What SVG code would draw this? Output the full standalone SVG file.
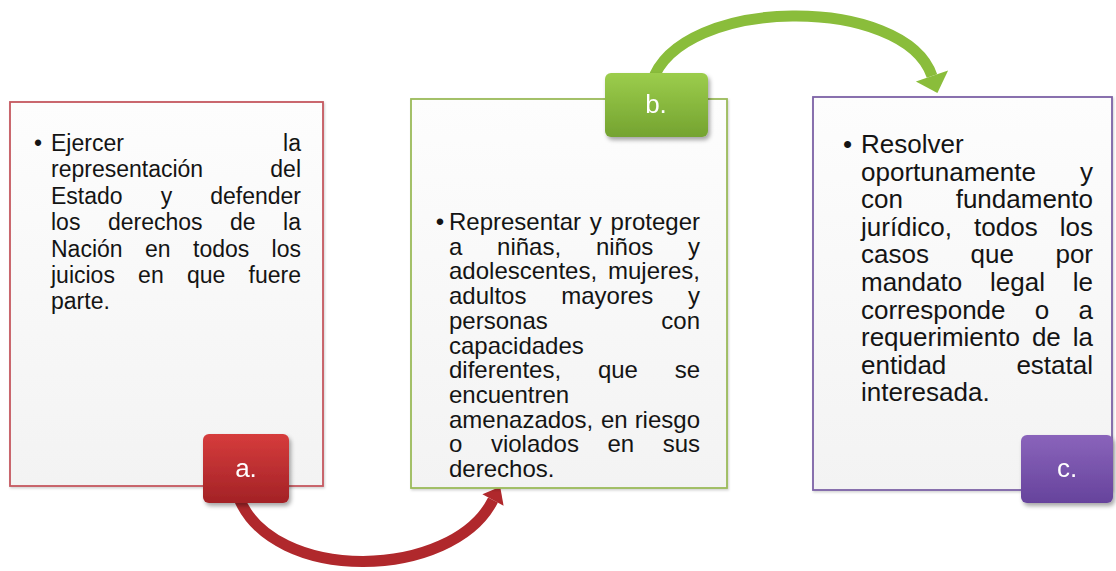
<svg xmlns="http://www.w3.org/2000/svg" width="1116" height="571" viewBox="0 0 1116 571">
<defs>
<linearGradient id="boxFill" x1="0" y1="0" x2="0" y2="1"><stop offset="0" stop-color="#fdfdfd"/><stop offset="1" stop-color="#f3f3f3"/></linearGradient>
<linearGradient id="gRed" x1="0" y1="0" x2="0" y2="1"><stop offset="0" stop-color="#d63c3c"/><stop offset="1" stop-color="#a32226"/></linearGradient>
<linearGradient id="gGreen" x1="0" y1="0" x2="0" y2="1"><stop offset="0" stop-color="#9ccd4c"/><stop offset="1" stop-color="#74a330"/></linearGradient>
<linearGradient id="gPurple" x1="0" y1="0" x2="0" y2="1"><stop offset="0" stop-color="#8a64bb"/><stop offset="1" stop-color="#66439c"/></linearGradient>
<filter id="sh" x="-20%" y="-20%" width="150%" height="150%"><feDropShadow dx="2" dy="3" stdDeviation="2" flood-color="#000" flood-opacity="0.35"/></filter>
<filter id="bsh" x="-5%" y="-5%" width="110%" height="110%"><feDropShadow dx="1" dy="1.5" stdDeviation="1.2" flood-color="#000" flood-opacity="0.18"/></filter>
</defs>
<style>
.box{fill:url(#boxFill);stroke-width:1.8}
.t{font-family:"Liberation Sans",Arial,sans-serif;fill:#141414}
.ta{font-size:23px}
.tb{font-size:24px}
.tc{font-size:26px}
.e{text-anchor:end}
.lbl{font-family:"Liberation Sans",Arial,sans-serif;font-size:26px;fill:#ffffff;text-anchor:middle}
.badge{filter:url(#sh)}
.arr{fill:none;stroke-width:11;stroke-linecap:butt}
</style>
<rect width="1116" height="571" fill="#ffffff"/>

<g id="connectors">
  <g id="arrow-a-b">
    <path class="arr" stroke="#b0282c" d="M238,496 C272,585 453,580 493,500"/>
    <polygon fill="#b0282c" points="500.2,486.8 503.6,505.8 482.4,494.2"/>
  </g>
  <g id="arrow-b-c">
    <path class="arr" stroke="#8abd3b" d="M652,82 C680,-5 905,-5 932,76"/>
    <polygon fill="#8abd3b" points="937.4,93 948.1,70.6 915.9,81.4"/>
  </g>
</g>

<g id="node-a">
  <rect class="box" x="10" y="102" width="313" height="384" stroke="#c5575f" filter="url(#bsh)"/>
  <g class="t ta">
    <text x="34" y="151">•</text>
    <text x="51" y="151">Ejercer</text><text class="e" x="301" y="151">la</text>
    <text x="51" y="177.4">representación</text><text class="e" x="301" y="177.4">del</text>
    <text x="51" y="203.8">Estado</text><text x="160.7" y="203.8">y</text><text class="e" x="301" y="203.8">defender</text>
    <text x="51" y="230.2">los</text><text x="107.9" y="230.2">derechos</text><text x="230" y="230.2">de</text><text class="e" x="301" y="230.2">la</text>
    <text x="51" y="256.6">Nación</text><text x="145" y="256.6">en</text><text x="193" y="256.6">todos</text><text class="e" x="301" y="256.6">los</text>
    <text x="51" y="283">juicios</text><text x="138.1" y="283">en</text><text x="186.9" y="283">que</text><text class="e" x="301" y="283">fuere</text>
    <text x="51" y="309.4">parte.</text>
  </g>
  <g class="badge">
    <rect x="203" y="434" width="86" height="69" rx="6" fill="url(#gRed)"/>
    <text class="lbl" x="246" y="477">a.</text>
  </g>
</g>

<g id="node-b">
  <rect class="box" x="411" y="99" width="316" height="389" stroke="#9bbb59" filter="url(#bsh)"/>
  <g class="t tb">
    <text x="435.8" y="230">•</text>
    <text x="449" y="230">Representar</text><text x="589.8" y="230">y</text><text class="e" x="700" y="230">proteger</text>
    <text x="449" y="254.7">a</text><text x="497.1" y="254.7">niñas,</text><text x="595.9" y="254.7">niños</text><text class="e" x="700" y="254.7">y</text>
    <text x="449" y="279.4">adolescentes,</text><text class="e" x="700" y="279.4">mujeres,</text>
    <text x="449" y="304.1">adultos</text><text x="561.2" y="304.1">mayores</text><text class="e" x="700" y="304.1">y</text>
    <text x="449" y="328.8">personas</text><text class="e" x="700" y="328.8">con</text>
    <text x="449" y="353.5">capacidades</text>
    <text x="449" y="378.2">diferentes,</text><text x="597.9" y="378.2">que</text><text class="e" x="700" y="378.2">se</text>
    <text x="449" y="402.9">encuentren</text>
    <text x="449" y="427.6">amenazados,</text><text x="601" y="427.6">en</text><text class="e" x="700" y="427.6">riesgo</text>
    <text x="449" y="452.3">o</text><text x="490.9" y="452.3">violados</text><text x="607.5" y="452.3">en</text><text class="e" x="700" y="452.3">sus</text>
    <text x="449" y="477">derechos.</text>
  </g>
  <g class="badge">
    <rect x="605" y="73" width="103" height="64" rx="6" fill="url(#gGreen)"/>
    <text class="lbl" x="656" y="113">b.</text>
  </g>
</g>

<g id="node-c">
  <rect class="box" x="813" y="97" width="299" height="393" stroke="#7d62a6" filter="url(#bsh)"/>
  <g class="t tc">
    <text x="843" y="153">•</text>
    <text x="861" y="153">Resolver</text>
    <text x="861" y="180.6">oportunamente</text><text class="e" x="1093" y="180.6">y</text>
    <text x="861" y="208.2">con</text><text class="e" x="1093" y="208.2">fundamento</text>
    <text x="861" y="235.8">jurídico,</text><text x="974.1" y="235.8">todos</text><text class="e" x="1093" y="235.8">los</text>
    <text x="861" y="263.4">casos</text><text x="970.5" y="263.4">que</text><text class="e" x="1093" y="263.4">por</text>
    <text x="861" y="291">mandato</text><text x="990" y="291">legal</text><text class="e" x="1093" y="291">le</text>
    <text x="861" y="318.6">corresponde</text><text x="1034.8" y="318.6">o</text><text class="e" x="1093" y="318.6">a</text>
    <text x="861" y="346.2">requerimiento</text><text x="1031.9" y="346.2">de</text><text class="e" x="1093" y="346.2">la</text>
    <text x="861" y="373.8">entidad</text><text class="e" x="1093" y="373.8">estatal</text>
    <text x="861" y="401.4">interesada.</text>
  </g>
  <g class="badge">
    <rect x="1021" y="435" width="92" height="68" rx="6" fill="url(#gPurple)"/>
    <text class="lbl" x="1067" y="477">c.</text>
  </g>
</g>
</svg>
